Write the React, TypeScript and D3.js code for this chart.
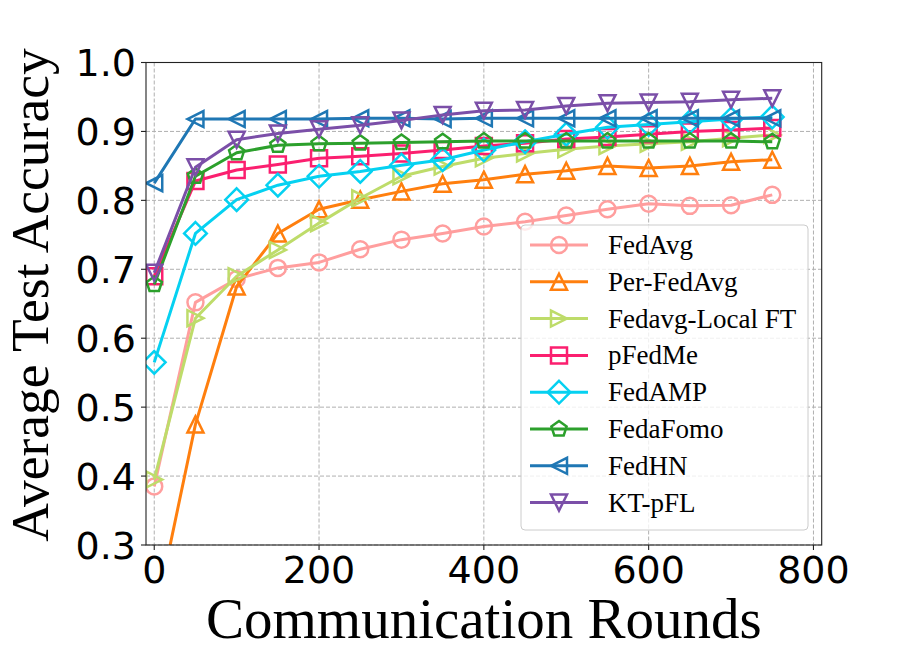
import * as d3 from "d3";

// communication rounds (x) and average test accuracy per method
const rounds = [0, 50, 100, 150, 200, 250, 300, 350, 400, 450, 500, 550, 600, 650, 700, 750];

const fedAvg = [0.385, 0.652, 0.686, 0.702, 0.71, 0.729, 0.743, 0.752, 0.762, 0.769, 0.778, 0.787, 0.795, 0.792, 0.793, 0.808];
const perFedAvg = [0.19, 0.475, 0.675, 0.752, 0.787, 0.801, 0.813, 0.824, 0.83, 0.838, 0.843, 0.85, 0.847, 0.85, 0.856, 0.859];
const localFT = [0.395, 0.629, 0.69, 0.728, 0.767, 0.803, 0.835, 0.849, 0.861, 0.868, 0.874, 0.879, 0.882, 0.885, 0.89, 0.895];
const pFedMe = [0.69, 0.828, 0.844, 0.852, 0.861, 0.864, 0.868, 0.873, 0.879, 0.883, 0.889, 0.892, 0.896, 0.9, 0.902, 0.905];
const fedAMP = [0.565, 0.752, 0.801, 0.822, 0.835, 0.842, 0.851, 0.859, 0.873, 0.885, 0.896, 0.906, 0.91, 0.914, 0.918, 0.921];
const fedaFomo = [0.678, 0.835, 0.869, 0.88, 0.882, 0.883, 0.884, 0.885, 0.886, 0.886, 0.886, 0.886, 0.886, 0.886, 0.886, 0.885];
const fedHN = [0.825, 0.918, 0.918, 0.918, 0.918, 0.919, 0.919, 0.918, 0.919, 0.919, 0.919, 0.919, 0.919, 0.919, 0.919, 0.919];
const ktPFL = [0.695, 0.848, 0.888, 0.897, 0.903, 0.909, 0.916, 0.924, 0.93, 0.931, 0.937, 0.941, 0.942, 0.943, 0.946, 0.948];

const xTicks = [0, 200, 400, 600, 800];
const yTicks = [0.3, 0.4, 0.5, 0.6, 0.7, 0.8, 0.9, 1.0];

type Marker = "o" | "^" | ">" | "s" | "D" | "p" | "<" | "v";

const SERIES: { name: string; values: number[]; color: string; marker: Marker }[] = [
  { name: "FedAvg", values: fedAvg, color: "#ff9e9e", marker: "o" },
  { name: "Per-FedAvg", values: perFedAvg, color: "#ff7f0e", marker: "^" },
  { name: "Fedavg-Local FT", values: localFT, color: "#bedc6a", marker: ">" },
  { name: "pFedMe", values: pFedMe, color: "#fb1f6f", marker: "s" },
  { name: "FedAMP", values: fedAMP, color: "#05d1f1", marker: "D" },
  { name: "FedaFomo", values: fedaFomo, color: "#2ca02c", marker: "p" },
  { name: "FedHN", values: fedHN, color: "#1f77b4", marker: "<" },
  { name: "KT-pFL", values: ktPFL, color: "#7b4fa8", marker: "v" },
];

const W = 913;
const H = 664;
const plot = { left: 146, right: 821.7, top: 62.5, bottom: 545 };
const MS = 16;
const SERIF = "'Times New Roman', 'Liberation Serif', serif";
const SANS = "'DejaVu Sans', sans-serif";

const outline = d3.line().curve(d3.curveLinearClosed);

function markerPath(m: Marker, s: number): string {
  const h = s / 2;
  if (m === "o") return `M${h},0A${h},${h} 0 1 1 ${-h},0A${h},${h} 0 1 1 ${h},0Z`;
  let pts: [number, number][] = [];
  if (m === "^") pts = [[0, -h], [h, h], [-h, h]];
  if (m === "v") pts = [[0, h], [-h, -h], [h, -h]];
  if (m === ">") pts = [[h, 0], [-h, -h], [-h, h]];
  if (m === "<") pts = [[-h, 0], [h, -h], [h, h]];
  if (m === "s") pts = [[-h, -h], [h, -h], [h, h], [-h, h]];
  if (m === "D") {
    const d = h * Math.SQRT2;
    pts = [[0, -d], [d, 0], [0, d], [-d, 0]];
  }
  if (m === "p") {
    pts = d3.range(5).map((k) => {
      const a = -Math.PI / 2 + (k * 2 * Math.PI) / 5;
      return [h * Math.cos(a), h * Math.sin(a)] as [number, number];
    });
  }
  return outline(pts) ?? "";
}

export default function App() {
  const x = d3.scaleLinear().domain([-10, 810]).range([plot.left, plot.right]);
  const y = d3.scaleLinear().domain([0.3, 1.0]).range([plot.bottom, plot.top]);

  const line = d3
    .line<number>()
    .x((_, i) => x(rounds[i]))
    .y((d) => y(d));

  const legend = { x: 521, y: 225, w: 287, h: 305, row0: 245, step: 36.8 };

  return (
    <svg
      width={W}
      height={H}
      style={{ position: "absolute", left: 0, top: 0, background: "#fff" }}
    >
      <defs>
        <clipPath id="plot-clip">
          <rect
            x={plot.left}
            y={plot.top}
            width={plot.right - plot.left}
            height={plot.bottom - plot.top}
          />
        </clipPath>
      </defs>

      {/* grid */}
      <g stroke="#b0b0b0" strokeWidth={1} strokeDasharray="4,2">
        {xTicks.map((t) => (
          <line key={`gx${t}`} x1={x(t)} x2={x(t)} y1={plot.top} y2={plot.bottom} />
        ))}
        {yTicks.map((t) => (
          <line key={`gy${t}`} x1={plot.left} x2={plot.right} y1={y(t)} y2={y(t)} />
        ))}
      </g>

      {/* series */}
      <g clipPath="url(#plot-clip)">
        {SERIES.map((s) => (
          <g key={s.name}>
            <path d={line(s.values) ?? ""} fill="none" stroke={s.color} strokeWidth={3} strokeLinejoin="round" />
            {s.values.map((v, i) => (
              <path
                key={i}
                d={markerPath(s.marker, MS)}
                transform={`translate(${x(rounds[i])},${y(v)})`}
                fill="none"
                stroke={s.color}
                strokeWidth={2.5}
              />
            ))}
          </g>
        ))}
      </g>

      {/* spines */}
      <rect
        x={plot.left}
        y={plot.top}
        width={plot.right - plot.left}
        height={plot.bottom - plot.top}
        fill="none"
        stroke="#222"
        strokeWidth={1.1}
      />

      {/* x axis */}
      {xTicks.map((t) => (
        <g key={`xt${t}`}>
          <line x1={x(t)} x2={x(t)} y1={plot.bottom} y2={plot.bottom + 5} stroke="#222" strokeWidth={1.1} />
          <text x={x(t)} y={583} textAnchor="middle" fontFamily={SANS} fontSize={38} fill="#000">
            {t}
          </text>
        </g>
      ))}
      <text
        x={(plot.left + plot.right) / 2}
        y={638}
        textAnchor="middle"
        fontFamily={SERIF}
        fontSize={57}
        fill="#000"
      >
        Communication Rounds
      </text>

      {/* y axis */}
      {yTicks.map((t) => (
        <g key={`yt${t}`}>
          <line x1={plot.left - 5} x2={plot.left} y1={y(t)} y2={y(t)} stroke="#222" strokeWidth={1.1} />
          <text x={136} y={y(t) + 13.9} textAnchor="end" fontFamily={SANS} fontSize={38} fill="#000">
            {t.toFixed(1)}
          </text>
        </g>
      ))}
      <text
        transform="translate(48,295) rotate(-90)"
        textAnchor="middle"
        fontFamily={SERIF}
        fontSize={53.5}
        fill="#000"
      >
        Average Test Accuracy
      </text>

      {/* legend */}
      <rect
        x={legend.x}
        y={legend.y}
        width={legend.w}
        height={legend.h}
        rx={4}
        fill="#fff"
        fillOpacity={0.8}
        stroke="#cccccc"
        strokeWidth={1}
      />
      {SERIES.map((s, i) => {
        const cy = legend.row0 + i * legend.step;
        return (
          <g key={`lg${s.name}`}>
            <line x1={530} x2={588} y1={cy} y2={cy} stroke={s.color} strokeWidth={3} />
            <path
              d={markerPath(s.marker, MS)}
              transform={`translate(559,${cy})`}
              fill="none"
              stroke={s.color}
              strokeWidth={2.5}
            />
            <text x={608} y={cy + 9} fontFamily={SERIF} fontSize={27} fill="#000">
              {s.name}
            </text>
          </g>
        );
      })}
    </svg>
  );
}
